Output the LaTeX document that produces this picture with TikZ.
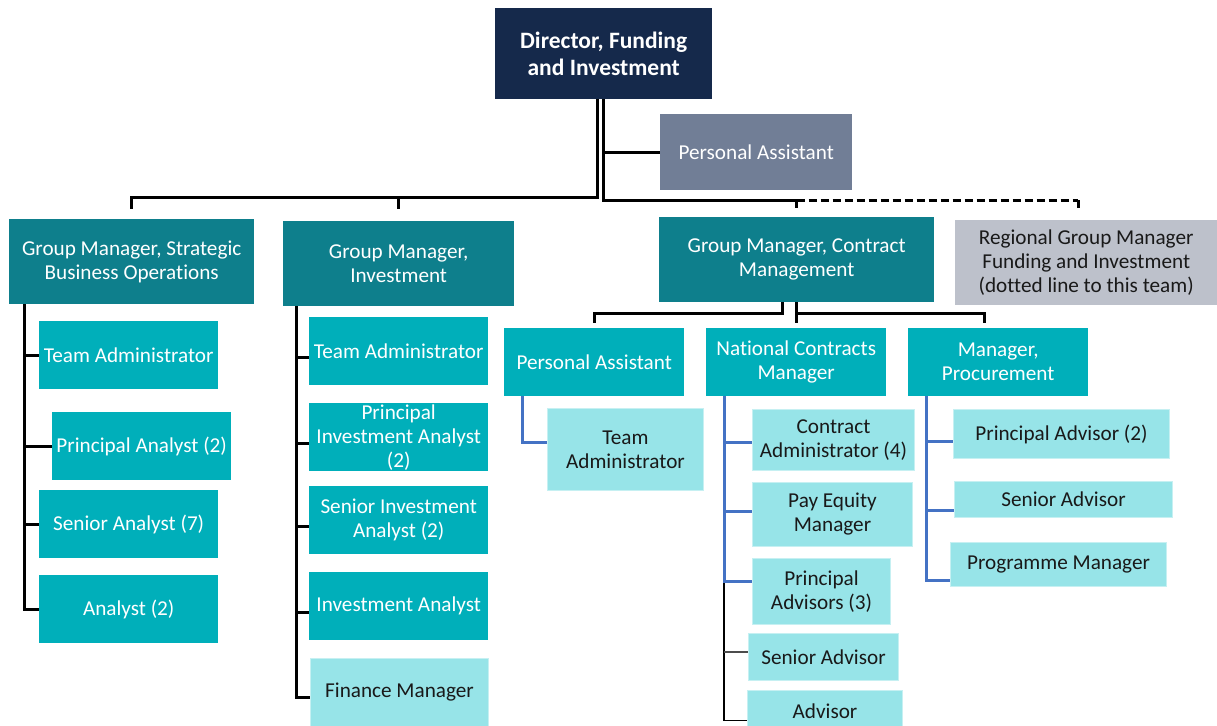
\documentclass[tikz,border=0pt]{standalone}
\usepackage{fontspec}
\setmainfont[Ligatures={NoCommon}]{Carlito}
\usetikzlibrary{calc}
\definecolor{navy}{HTML}{15294B}
\definecolor{slate}{HTML}{717E96}
\definecolor{dteal}{HTML}{0E7F8C}
\definecolor{bteal}{HTML}{00AFBA}
\definecolor{lteal}{HTML}{97E4E8}
\definecolor{lgray}{HTML}{BDC1CB}
\definecolor{lblue}{HTML}{4472C4}
\newcommand{\orgbox}[7]{\node[#6, minimum width={#4-#2}, minimum height={#5-#3}, anchor=north west] (#1) at (#2,#3) {#7};}
\tikzset{
  base/.style={inner sep=0pt, align=center, font=\fontsize{21.2}{24}\selectfont},
  dk/.style={base, fill=dteal, text=white},
  bt/.style={base, fill=bteal, text=white},
  lt/.style={base, fill=lteal, draw=lteal!55!white, line width=1pt, text=black!90},
  nv/.style={base, fill=navy, text=white, font=\bfseries\fontsize{23.5}{27}\selectfont},
  sl/.style={base, fill=slate, text=white},
  gy/.style={base, fill=lgray, text=black!90},
  blk/.style={draw=black, line width=3pt},
  dsh/.style={draw=black, line width=3pt, dash pattern=on 8pt off 4pt},
  blu/.style={draw=lblue, line width=3pt},
  thin/.style={draw=black, line width=1.6pt},
  gthin/.style={draw=black!70, line width=1.6pt}
}
\begin{document}
\begin{tikzpicture}[x=1pt,y=-1pt]
\useasboundingbox (0,0) rectangle (1217,725);
% top
\orgbox{dir}{495}{8}{712}{99}{nv}{Director, Funding\\and Investment}
\orgbox{pa}{660}{114}{852}{190}{sl}{Personal Assistant}
% level 2
\orgbox{gms}{9}{219}{254}{304}{dk}{Group Manager, Strategic\\Business Operations}
\orgbox{gmi}{283}{221}{514}{306}{dk}{Group Manager,\\Investment}
\orgbox{gmc}{659}{217}{934}{302}{dk}{Group Manager, Contract\\Management}
\orgbox{reg}{955}{220}{1217}{305}{gy}{Regional Group Manager\\Funding and Investment\\(dotted line to this team)}
% strategic
\orgbox{s1}{39}{321}{218}{389}{bt}{Team Administrator}
\orgbox{s2}{52}{412}{231}{480}{bt}{Principal Analyst (2)}
\orgbox{s3}{39}{490}{218}{558}{bt}{Senior Analyst (7)}
\orgbox{s4}{39}{575}{218}{643}{bt}{Analyst (2)}
% investment
\orgbox{i1}{309}{317}{488}{385}{bt}{Team Administrator}
\orgbox{i2}{309}{403}{488}{471}{bt}{Principal\\Investment Analyst\\(2)}
\orgbox{i3}{309}{486}{488}{554}{bt}{Senior Investment\\Analyst (2)}
\orgbox{i4}{309}{572}{488}{640}{bt}{Investment Analyst}
\orgbox{i5}{310}{658}{488}{726}{lt}{Finance Manager}
% contract
\orgbox{c1}{504}{328}{684}{396}{bt}{Personal Assistant}
\orgbox{c2}{706}{328}{886}{396}{bt}{National Contracts\\Manager}
\orgbox{c3}{908}{328}{1088}{396}{bt}{Manager,\\Procurement}
\orgbox{c1a}{547}{408}{703}{490}{lt}{Team\\Administrator}
\orgbox{n1}{752}{409}{914}{470}{lt}{Contract\\Administrator (4)}
\orgbox{n2}{752}{482}{912}{546}{lt}{Pay Equity\\Manager}
\orgbox{n3}{752}{558}{890}{624}{lt}{Principal\\Advisors (3)}
\orgbox{n4}{748}{633}{898}{680}{lt}{Senior Advisor}
\orgbox{n5}{747}{690}{902}{732}{lt}{Advisor}
\orgbox{m1}{953}{409}{1169}{458}{lt}{Principal Advisor (2)}
\orgbox{m2}{954}{481}{1172}{517}{lt}{Senior Advisor}
\orgbox{m3}{950}{542}{1166}{586}{lt}{Programme Manager}

% ---- connectors: director
\coordinate (busL) at (0,197);
\coordinate (busR) at (0,200);
\coordinate (regtap) at ($(reg.north)+(-8,-12)$);
\draw[blk] ([xshift=-6.5pt]dir.south) -- ([xshift=-6.5pt]dir.south |- busL) -| ([yshift=10pt]gms.north);
\draw[blk] (gmi.north |- busL) -- ([yshift=12pt]gmi.north);
\draw[blk] (dir.south) -- (dir.south |- busR) -- (gmc.north |- busR) -- ([yshift=9pt]gmc.north);
\draw[blk] (dir.south |- pa.west) -- (pa.west);
\draw[dsh] (gmc.north |- busR) -- (regtap |- busR);
\draw[blk] (regtap |- busR) -- (regtap);

% ---- strategic
\coordinate (ssp) at ([xshift=15pt]gms.south west);
\draw[blk] (ssp) |- (s4.west);
\foreach \n in {s1,s2,s3} \draw[blk] (ssp |- \n.west) -- (\n.west);

% ---- investment
\coordinate (isp) at ([xshift=13pt]gmi.south west);
\foreach \n in {i1,i2,i3,i4} \coordinate (\n t) at ([yshift=-6pt]\n.west);
\coordinate (i5t) at ([yshift=-5pt]i5.west);
\draw[blk] (isp) |- (i5t);
\foreach \n in {i1,i2,i3,i4} \draw[blk] (isp |- \n t) -- (\n t);

% ---- contract management
\coordinate (cbus) at (0,313);
\coordinate (c1tap) at ($(c1.north)+(0,-5)$);
\coordinate (c2tap) at ($(c2.north)+(0,-5)$);
\coordinate (c3tap) at ($(c3.north)+(-14,-5)$);
\draw[blk] ([xshift=-14.5pt]gmc.south) -- ([xshift=-14.5pt]gmc.south |- cbus) -| (c1tap);
\draw[blk] (gmc.south) -- (gmc.south |- c2tap);
\draw[blk] (gmc.south |- cbus) -| (c3tap);

% PA -> team admin
\draw[blu] ([xshift=18pt]c1.south west) |- ([yshift=7pt]c1a.west);

% National contracts manager
\coordinate (nsp) at ([xshift=18pt]c2.south west);
\coordinate (n1t) at ([yshift=-2pt]n1.west);
\coordinate (n2t) at ([yshift=3pt]n2.west);
\coordinate (n3t) at ([yshift=10pt]n3.west);
\coordinate (n4t) at ([yshift=5pt]n4.west);
\coordinate (n5t) at ([yshift=-9pt]n5.west);
\draw[thin] (nsp |- n3t) |- (n5t);
\draw[gthin] (nsp |- n4t) -- (n4t);
\draw[blu] (nsp) |- (n3t);
\draw[blu] (nsp |- n1t) -- (n1t);
\draw[blu] (nsp |- n2t) -- (n2t);

% Manager procurement
\coordinate (msp) at ([xshift=18pt]c3.south west);
\coordinate (m1t) at ([yshift=-7pt]m1.west);
\coordinate (m2t) at ([yshift=-11pt]m2.west);
\coordinate (m3t) at ([yshift=-16pt]m3.west);
\draw[blu] (msp) |- (m3t);
\draw[blu] (msp |- m1t) -- (m1t);
\draw[blu] (msp |- m2t) -- (m2t);
\end{tikzpicture}
\end{document}
